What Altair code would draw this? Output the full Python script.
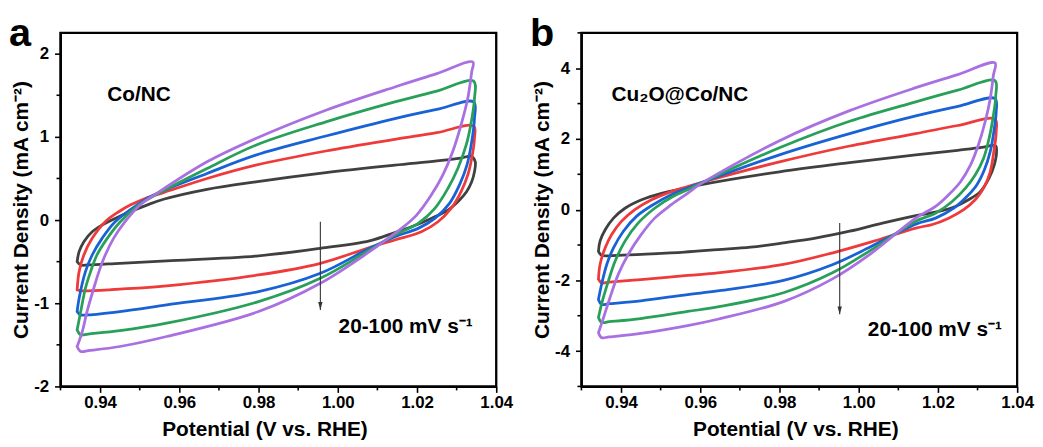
import altair as alt
import pandas as pd

FONT = "Liberation Sans"
RATES = ["20", "40", "60", "80", "100"]
COLORS = ["#404040", "#ee3a3a", "#1962d6", "#29a05a", "#a970e2"]

X_DOMAIN = [0.93, 1.04]
X_MAJOR = [0.94, 0.96, 0.98, 1.00, 1.02, 1.04]
X_MINOR = [0.93, 0.95, 0.97, 0.99, 1.01, 1.03]

# ---------------- panel a : Co/NC ----------------
A_Y_DOMAIN = [-2, 2.25]
A_Y_MAJOR = [-2, -1, 0, 1, 2]
A_Y_MINOR = [-1.5, -0.5, 0.5, 1.5]

A20_V = [0.9342, 0.9347, 0.9359, 0.9380, 0.9405, 0.9438, 0.9476, 0.9518, 0.9560, 0.9670, 0.9793, 0.9970, 1.0144, 1.0250, 1.0310, 1.0338,
         1.0347, 1.0345, 1.0338, 1.0325, 1.0305, 1.0278, 1.0236, 1.0186, 1.0144, 1.0080, 0.9956, 0.9800, 0.9568, 0.9450, 0.9370, 0.9351, 0.9342]
A20_I = [-0.50, -0.38, -0.26, -0.14, -0.06, 0.02, 0.10, 0.18, 0.25, 0.37, 0.46, 0.57, 0.66, 0.71, 0.745, 0.765,
         0.70, 0.58, 0.46, 0.34, 0.23, 0.12, 0.02, -0.08, -0.15, -0.25, -0.34, -0.43, -0.49, -0.52, -0.54, -0.54, -0.50]

A40_V = [0.9342, 0.9347, 0.9359, 0.9380, 0.9413, 0.9447, 0.9476, 0.9514, 0.9560, 0.9670, 0.9793, 0.9970, 1.0144, 1.0250, 1.0343,
         1.0345, 1.0338, 1.0328, 1.0311, 1.0286, 1.0253, 1.0211, 1.0144, 1.0080, 0.9956, 0.9800, 0.9568, 0.9450, 0.9370, 0.9351, 0.9342]
A40_I = [-0.84, -0.62, -0.42, -0.22, -0.02, 0.10, 0.18, 0.26, 0.33, 0.50, 0.66, 0.83, 0.97, 1.05, 1.13,
         0.98, 0.74, 0.54, 0.34, 0.14, -0.02, -0.14, -0.24, -0.33, -0.52, -0.66, -0.79, -0.83, -0.85, -0.85, -0.84]

A60_V = [0.9342, 0.9347, 0.9363, 0.9380, 0.9405, 0.9438, 0.9493, 0.9535, 0.9670, 0.9793, 0.9970, 1.0144, 1.0250, 1.0343,
         1.0345, 1.0338, 1.0326, 1.0307, 1.0282, 1.0245, 1.0203, 1.0144, 1.0080, 0.9956, 0.9800, 0.9568, 0.9450, 0.9370, 0.9351, 0.9342]
A60_I = [-1.10, -0.94, -0.62, -0.42, -0.22, -0.02, 0.18, 0.30, 0.56, 0.78, 1.01, 1.22, 1.33, 1.42,
         1.22, 0.94, 0.66, 0.42, 0.20, 0.02, -0.10, -0.20, -0.34, -0.64, -0.86, -1.02, -1.10, -1.14, -1.14, -1.10]

A80_V = [0.9342, 0.9351, 0.9363, 0.9376, 0.9392, 0.9418, 0.9451, 0.9497, 0.9539, 0.9670, 0.9793, 0.9970, 1.0144, 1.0250, 1.0343,
         1.0345, 1.0337, 1.0324, 1.0303, 1.0278, 1.0245, 1.0203, 1.0144, 1.0080, 0.9956, 0.9800, 0.9568, 0.9450, 0.9370, 0.9351, 0.9342]
A80_I = [-1.32, -1.10, -0.82, -0.62, -0.42, -0.22, -0.02, 0.18, 0.30, 0.62, 0.90, 1.18, 1.42, 1.55, 1.67,
         1.46, 1.18, 0.90, 0.62, 0.38, 0.14, -0.04, -0.18, -0.36, -0.70, -0.98, -1.24, -1.33, -1.37, -1.38, -1.32]

A100_V = [0.9342, 0.9355, 0.9367, 0.9384, 0.9397, 0.9413, 0.9434, 0.9463, 0.9501, 0.9543, 0.9670, 0.9793, 0.9970, 1.0144, 1.0250, 1.0341,
          1.0338, 1.0328, 1.0311, 1.0290, 1.0265, 1.0236, 1.0199, 1.0161, 1.0144, 1.0080, 0.9956, 0.9800, 0.9568, 0.9450, 0.9370, 0.9351, 0.9342]
A100_I = [-1.52, -1.34, -1.10, -0.82, -0.62, -0.42, -0.22, -0.02, 0.18, 0.32, 0.70, 0.98, 1.32, 1.60, 1.76, 1.90,
          1.78, 1.46, 1.14, 0.82, 0.54, 0.30, 0.06, -0.10, -0.16, -0.38, -0.76, -1.10, -1.40, -1.52, -1.57, -1.58, -1.52]

A_LABELS = ["Co/NC", "20-100 mV s\u207b\u00b9"]
A_LABEL_V = [0.9418, 1.0002]
A_LABEL_I = [1.43, -1.36]
A_ARROW_V = 0.9956
A_ARROW_I = [-0.02, -1.08]

# ---------------- panel b : Cu2O@Co/NC ----------------
B_Y_DOMAIN = [-5, 5]
B_Y_MAJOR = [-4, -2, 0, 2, 4]
B_Y_MINOR = [-5, -3, -1, 1, 3, 5]

B20_V = [0.9343, 0.9347, 0.9360, 0.9381, 0.9410, 0.9452, 0.9502, 0.9568, 0.9600, 0.9800, 0.9977, 1.0144, 1.0250, 1.0310, 1.0338,
         1.0346, 1.0348, 1.0342, 1.0329, 1.0307, 1.0277, 1.0244, 1.0202, 1.0144, 1.0060, 0.9977, 0.9894, 0.9810, 0.9727, 0.9644, 0.9560, 0.9477, 0.9393, 0.9351, 0.9343]
B20_I = [-1.18, -0.89, -0.57, -0.24, 0.04, 0.28, 0.46, 0.62, 0.70, 1.07, 1.33, 1.55, 1.68, 1.76, 1.82,
         1.80, 1.64, 1.26, 0.89, 0.51, 0.28, 0.09, -0.05, -0.17, -0.38, -0.61, -0.80, -0.94, -1.06, -1.13, -1.20, -1.25, -1.29, -1.29, -1.18]

B40_V = [0.9343, 0.9347, 0.9360, 0.9376, 0.9401, 0.9435, 0.9477, 0.9527, 0.9568, 0.9600, 0.9800, 0.9977, 1.0144, 1.0250, 1.0344,
         1.0347, 1.0341, 1.0332, 1.0315, 1.0294, 1.0265, 1.0227, 1.0186, 1.0144, 1.0030, 0.9935, 0.9810, 0.9644, 0.9568, 0.9450, 0.9370, 0.9351, 0.9343]
B40_I = [-1.97, -1.55, -1.08, -0.71, -0.33, 0.00, 0.28, 0.51, 0.65, 0.76, 1.35, 1.80, 2.15, 2.38, 2.56,
         2.20, 1.64, 1.07, 0.60, 0.28, 0.00, -0.24, -0.42, -0.52, -0.92, -1.22, -1.55, -1.79, -1.86, -1.98, -2.05, -2.07, -1.97]

B60_V = [0.9343, 0.9351, 0.9364, 0.9381, 0.9406, 0.9439, 0.9481, 0.9527, 0.9568, 0.9600, 0.9800, 0.9977, 1.0144, 1.0250, 1.0344,
         1.0347, 1.0341, 1.0332, 1.0317, 1.0298, 1.0273, 1.0240, 1.0194, 1.0144, 1.0030, 0.9935, 0.9810, 0.9644, 0.9568, 0.9450, 0.9370, 0.9351, 0.9343]
B60_I = [-2.54, -2.11, -1.55, -1.08, -0.61, -0.19, 0.14, 0.42, 0.61, 0.75, 1.55, 2.15, 2.65, 2.92, 3.14,
         2.76, 2.20, 1.64, 1.12, 0.70, 0.37, 0.04, -0.24, -0.41, -1.05, -1.55, -2.00, -2.30, -2.40, -2.58, -2.66, -2.68, -2.54]

B80_V = [0.9343, 0.9353, 0.9368, 0.9385, 0.9410, 0.9443, 0.9485, 0.9531, 0.9568, 0.9600, 0.9800, 0.9977, 1.0144, 1.0250, 1.0344,
         1.0346, 1.0340, 1.0329, 1.0315, 1.0294, 1.0269, 1.0236, 1.0194, 1.0144, 1.0030, 0.9935, 0.9810, 0.9644, 0.9568, 0.9450, 0.9370, 0.9351, 0.9343]
B80_I = [-3.05, -2.58, -2.02, -1.46, -0.89, -0.38, 0.04, 0.37, 0.56, 0.74, 1.75, 2.50, 3.05, 3.38, 3.65,
         3.23, 2.67, 2.01, 1.45, 0.98, 0.60, 0.23, -0.10, -0.33, -1.15, -1.78, -2.35, -2.75, -2.88, -3.08, -3.17, -3.19, -3.05]

B100_V = [0.9343, 0.9356, 0.9372, 0.9393, 0.9418, 0.9448, 0.9485, 0.9527, 0.9568, 0.9600, 0.9800, 0.9977, 1.0144, 1.0250, 1.0344,
          1.0340, 1.0332, 1.0319, 1.0302, 1.0282, 1.0257, 1.0227, 1.0194, 1.0144, 1.0030, 0.9935, 0.9810, 0.9644, 0.9568, 0.9450, 0.9370, 0.9351, 0.9343]
B100_I = [-3.48, -3.05, -2.49, -1.83, -1.27, -0.75, -0.24, 0.14, 0.46, 0.72, 1.95, 2.80, 3.45, 3.82, 4.15,
          3.80, 3.14, 2.48, 1.83, 1.26, 0.79, 0.42, 0.09, -0.24, -1.25, -1.95, -2.60, -3.10, -3.28, -3.50, -3.60, -3.62, -3.48]

B_LABELS = ["Cu\u2082O@Co/NC", "20-100 mV s\u207b\u00b9"]
B_LABEL_V = [0.9376, 1.0023]
B_LABEL_I = [3.07, -3.57]
B_ARROW_V = 0.9952
B_ARROW_I = [-0.38, -2.96]

W, H = 440, 357


def loops_frame(pairs):
    rows = []
    for rate, (vs, cs) in zip(RATES, pairs):
        for k, (v, c) in enumerate(zip(vs, cs)):
            rows.append({"rate": rate, "idx": k, "V": v, "I": c})
    return pd.DataFrame(rows)


def panel(pairs, ydom, ymaj, ymin, labels, lab_v, lab_i, arr_v, arr_i, letter, title_x):
    xs = alt.Scale(domain=X_DOMAIN, nice=False, zero=False)
    ys = alt.Scale(domain=ydom, nice=False, zero=False)
    xaxis = alt.Axis(values=X_MAJOR, format=".2f", title="Potential (V vs. RHE)", titleX=title_x,
                     labelFlush=False)
    yaxis = alt.Axis(values=ymaj, labelExpr="'' + datum.value", title="Current Density (mA cm\u207b\u00b2)",
                     labelFlush=False, titlePadding=2)

    lines = alt.Chart(loops_frame(pairs)).mark_line(
        strokeWidth=2.8, interpolate="catmull-rom", strokeCap="round", strokeJoin="round"
    ).encode(
        x=alt.X("V:Q", scale=xs, axis=xaxis),
        y=alt.Y("I:Q", scale=ys, axis=yaxis),
        color=alt.Color("rate:N", scale=alt.Scale(domain=RATES, range=COLORS), legend=None),
        order=alt.Order("idx:Q"),
    )

    # box outline as an unfilled rectangle over the whole scale range
    box_df = pd.DataFrame({"V": [X_DOMAIN[0]], "V2": [X_DOMAIN[1]], "I": [ydom[0]], "I2": [ydom[1]]})
    box = alt.Chart(box_df).mark_rect(fill=None, fillOpacity=0, stroke="#000000", strokeWidth=2.1).encode(
        x=alt.X("V:Q", scale=xs), x2="V2:Q", y=alt.Y("I:Q", scale=ys), y2="I2:Q")

    # minor ticks
    xm_df = pd.DataFrame({"V": X_MINOR, "I": [ydom[0]] * len(X_MINOR)})
    xminor = alt.Chart(xm_df).mark_rule(color="black", strokeWidth=1.6, y2Offset=4).encode(
        x=alt.X("V:Q", scale=xs), y=alt.Y("I:Q", scale=ys), y2="I:Q")
    ym_df = pd.DataFrame({"I": ymin, "V": [X_DOMAIN[0]] * len(ymin)})
    yminor = alt.Chart(ym_df).mark_rule(color="black", strokeWidth=1.6, x2Offset=-4).encode(
        y=alt.Y("I:Q", scale=ys), x=alt.X("V:Q", scale=xs), x2="V:Q")

    arrow_df = pd.DataFrame({"V": [arr_v], "I0": [arr_i[0]], "I1": [arr_i[1]]})
    arrow_line = alt.Chart(arrow_df).mark_rule(color="#333333", strokeWidth=1.1).encode(
        x=alt.X("V:Q", scale=xs), y=alt.Y("I0:Q", scale=ys), y2="I1:Q")
    arrow_head = alt.Chart(arrow_df).mark_point(
        shape="M-0.55,-2L0.55,-2L0,0Z", filled=True, size=64, color="#333333", opacity=1
    ).encode(x=alt.X("V:Q", scale=xs), y=alt.Y("I1:Q", scale=ys))

    texts = alt.Chart(pd.DataFrame({"t": labels, "V": lab_v, "I": lab_i})).mark_text(
        align="left", baseline="alphabetic", font=FONT, fontSize=21, fontWeight="bold", color="black"
    ).encode(x=alt.X("V:Q", scale=xs), y=alt.Y("I:Q", scale=ys), text="t:N")

    let = alt.Chart(pd.DataFrame({"t": [letter]})).mark_text(
        align="left", baseline="alphabetic", font=FONT, fontSize=40, fontWeight="bold", color="black"
    ).encode(x=alt.value(-52), y=alt.value(13), text="t:N")

    return alt.layer(lines, box, xminor, yminor, arrow_line, arrow_head, texts, let
                     ).properties(width=W, height=H)


pa = panel([(A20_V, A20_I), (A40_V, A40_I), (A60_V, A60_I), (A80_V, A80_I), (A100_V, A100_I)],
           A_Y_DOMAIN, A_Y_MAJOR, A_Y_MINOR, A_LABELS, A_LABEL_V, A_LABEL_I, A_ARROW_V, A_ARROW_I, "a", 206)
pb = panel([(B20_V, B20_I), (B40_V, B40_I), (B60_V, B60_I), (B80_V, B80_I), (B100_V, B100_I)],
           B_Y_DOMAIN, B_Y_MAJOR, B_Y_MINOR, B_LABELS, B_LABEL_V, B_LABEL_I, B_ARROW_V, B_ARROW_I, "b", 216)

chart = alt.hconcat(pa, pb, spacing=15).properties(
    padding={"left": 0, "top": 3, "right": 0, "bottom": 0}
).configure_view(
    stroke="black", strokeWidth=1.8
).configure_axis(
    labelFont=FONT, labelFontSize=17, labelFontWeight="bold", labelColor="black", labelPadding=6,
    titleFont=FONT, titleFontSize=21, titleFontWeight="bold", titleColor="black", titlePadding=4,
    tickColor="black", tickWidth=1.6, tickSize=6, domainColor="black", domainWidth=2, grid=False,
).configure_axisX(labelPadding=2, titlePadding=9)

chart.save("out.html", embed_options={"renderer": "svg", "actions": False})
